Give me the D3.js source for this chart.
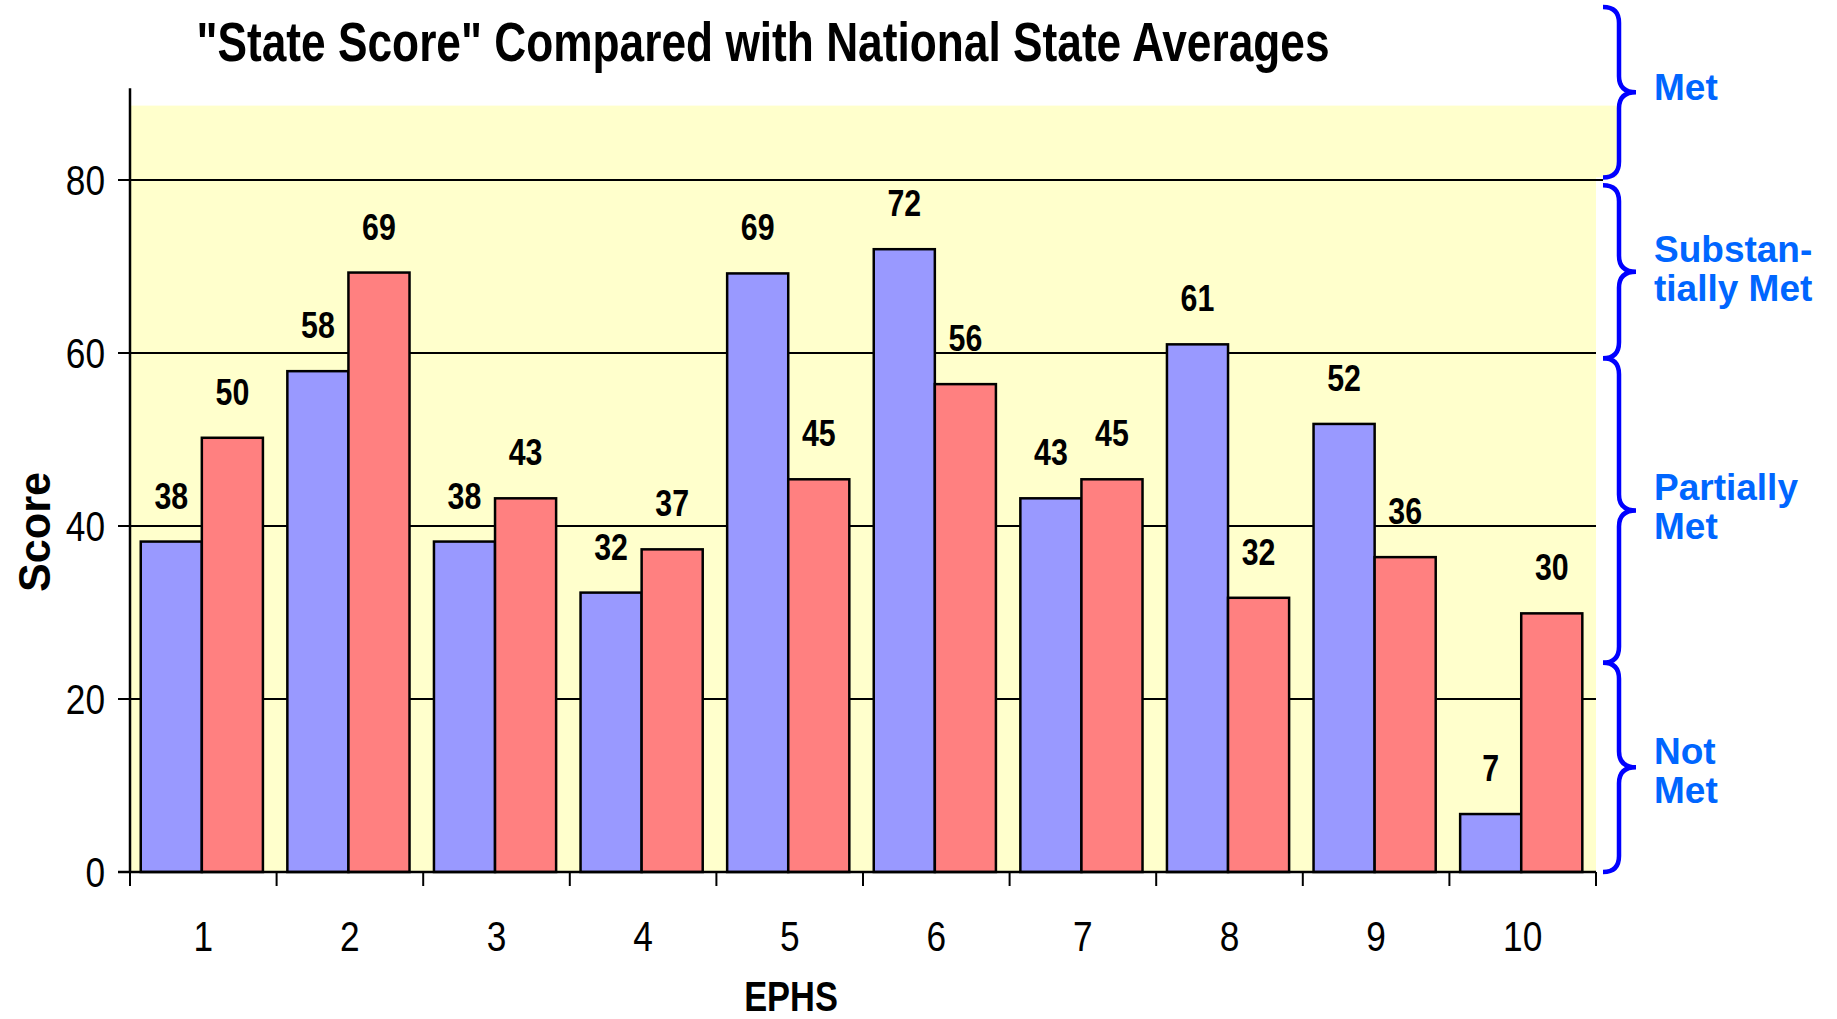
<!DOCTYPE html>
<html>
<head>
<meta charset="utf-8">
<script src="https://cdn.jsdelivr.net/npm/d3@7"></script>
<style>
  body { margin: 0; background: #fff; }
  svg { display: block; }
  text { font-family: "Liberation Sans", Arial, sans-serif; }
</style>
</head>
<body>
<div id="chart"></div>
<script>
const CATEGORIES = ["1", "2", "3", "4", "5", "6", "7", "8", "9", "10"];
const STATE_SCORE = [38.2, 57.9, 38.2, 32.3, 69.2, 72.0, 43.2, 61.0, 51.8, 6.7];
const NATIONAL_AVG = [50.2, 69.3, 43.2, 37.3, 45.4, 56.4, 45.4, 31.7, 36.4, 29.9];
const Y_TICKS = [0, 20, 40, 60, 80];
const LEVEL_NAMES = [["Not", "Met"], ["Partially", "Met"], ["Substan-", "tially Met"], ["Met"]];
const LEVEL_LOW = [0, 24.2, 59.4, 80.3];
const LEVEL_HIGH = [24.2, 59.4, 79.4, 100];

const STATE_COLOUR = "#9999FF";
const NATIONAL_COLOUR = "#FF8080";
const BAND_COLOUR = "#FFFFCC";
const BRACE_COLOUR = "#0000FF";
const LEVEL_TEXT_COLOUR = "#0066FF";
const NARROW = 0.82;   // no Arial Narrow here, squeeze Liberation Sans instead

var width = 1837, height = 1019;
var left = 130, right = 1596;

var svg = d3.select("#chart")
  .append("svg")
    .attr("width", width)
    .attr("height", height);

// narrow text: squeeze horizontally around its anchor point
function narrowText(parent, x, y) {
  return parent.append("text")
    .attr("transform", "translate(" + x + "," + y + ") scale(" + NARROW + ",1)");
}

var y = d3.scaleLinear().domain([0, 80]).range([872, 180]);
var x0 = d3.scaleBand().domain(CATEGORIES).range([left, right]).padding(0);
var x1 = d3.scaleBand().domain(["state", "national"])
  .range([0, x0.bandwidth()])
  .paddingInner(0)
  .paddingOuter(0.2)
  .align(0.44);

// yellow background
svg.append("rect")
  .attr("x", left)
  .attr("y", y(88.6))
  .attr("width", right - left)
  .attr("height", y(0) - y(88.6))
  .attr("fill", BAND_COLOUR);
svg.append("rect")
  .attr("x", right)
  .attr("y", y(88.6))
  .attr("width", 21)
  .attr("height", y(80.3) - y(88.6))
  .attr("fill", BAND_COLOUR);

// gridlines
svg.append("g")
  .selectAll("line")
  .data(Y_TICKS.filter(function(d) { return d > 0; }))
  .enter()
  .append("line")
    .attr("x1", left)
    .attr("x2", function(d) { return d == 80 ? right + 7 : right; })
    .attr("y1", function(d) { return y(d); })
    .attr("y2", function(d) { return y(d); })
    .attr("stroke", "#000")
    .attr("stroke-width", 2);

// bars
var series = [
  {key: "state", values: STATE_SCORE, colour: STATE_COLOUR},
  {key: "national", values: NATIONAL_AVG, colour: NATIONAL_COLOUR}
];
series.forEach(function(s) {
  var g = svg.append("g");
  g.selectAll("rect")
    .data(s.values)
    .enter()
    .append("rect")
      .attr("x", function(d, i) { return x0(CATEGORIES[i]) + x1(s.key); })
      .attr("y", function(d) { return y(d); })
      .attr("width", x1.bandwidth())
      .attr("height", function(d) { return y(0) - y(d); })
      .attr("fill", s.colour)
      .attr("stroke", "#000")
      .attr("stroke-width", 2.5);
  s.values.forEach(function(d, i) {
    narrowText(g, x0(CATEGORIES[i]) + x1(s.key) + x1.bandwidth() / 2, y(d) - 33)
      .attr("text-anchor", "middle")
      .attr("font-size", 37)
      .attr("font-weight", "bold")
      .text(Math.round(d));
  });
});

// y axis
var yAxis = svg.append("g");
yAxis.append("line")
  .attr("x1", left).attr("x2", left)
  .attr("y1", y(0)).attr("y2", y(90.6))
  .attr("stroke", "#000").attr("stroke-width", 2.5);
yAxis.selectAll(".tick")
  .data(Y_TICKS)
  .enter()
  .append("line")
    .attr("x1", left - 12).attr("x2", left)
    .attr("y1", function(d) { return y(d); })
    .attr("y2", function(d) { return y(d); })
    .attr("stroke", "#000").attr("stroke-width", 2);
Y_TICKS.forEach(function(d) {
  narrowText(yAxis, 105, y(d))
    .attr("dy", "0.36em")
    .attr("text-anchor", "end")
    .attr("font-size", 43)
    .text(d);
});

// x axis
var xAxis = svg.append("g");
xAxis.append("line")
  .attr("x1", left - 12).attr("x2", right)
  .attr("y1", y(0)).attr("y2", y(0))
  .attr("stroke", "#000").attr("stroke-width", 2.5);
var xTickPos = CATEGORIES.map(function(c) { return x0(c); }).concat([right]);
xAxis.selectAll(".tick")
  .data(xTickPos)
  .enter()
  .append("line")
    .attr("x1", function(d) { return d; })
    .attr("x2", function(d) { return d; })
    .attr("y1", y(0))
    .attr("y2", y(0) + 14)
    .attr("stroke", "#000").attr("stroke-width", 2);
CATEGORIES.forEach(function(c) {
  narrowText(xAxis, x0(c) + x0.bandwidth() / 2, 951)
    .attr("text-anchor", "middle")
    .attr("font-size", 43)
    .text(c);
});

// titles
svg.append("text")
  .attr("x", 763)
  .attr("y", 61)
  .attr("text-anchor", "middle")
  .attr("font-size", 56)
  .attr("font-weight", "bold")
  .attr("textLength", 1133)
  .attr("lengthAdjust", "spacingAndGlyphs")
  .text('"State Score" Compared with National State Averages');

narrowText(svg, 791, 1011)
  .attr("text-anchor", "middle")
  .attr("font-size", 42)
  .attr("font-weight", "bold")
  .text("EPHS");

svg.append("text")
  .attr("transform", "translate(50,532) rotate(-90)")
  .attr("text-anchor", "middle")
  .attr("font-size", 44)
  .attr("font-weight", "bold")
  .attr("textLength", 120)
  .attr("lengthAdjust", "spacingAndGlyphs")
  .text("Score");

// level braces
var spine = 1619, tip = 1636, ends = 1603;
function bracePath(lo, hi) {
  var y1 = y(hi), y2 = y(lo), ym = (y1 + y2) / 2, r = 16;
  return "M" + ends + "," + y1 +
    " Q" + spine + "," + y1 + " " + spine + "," + (y1 + r) +
    " L" + spine + "," + (ym - r) +
    " Q" + spine + "," + ym + " " + tip + "," + ym +
    " Q" + spine + "," + ym + " " + spine + "," + (ym + r) +
    " L" + spine + "," + (y2 - r) +
    " Q" + spine + "," + y2 + " " + ends + "," + y2;
}
var levels = svg.append("g");
LEVEL_NAMES.forEach(function(lines, i) {
  levels.append("path")
    .attr("d", bracePath(LEVEL_LOW[i], LEVEL_HIGH[i]))
    .attr("fill", "none")
    .attr("stroke", BRACE_COLOUR)
    .attr("stroke-width", 4.5);
  var ym = (y(LEVEL_LOW[i]) + y(LEVEL_HIGH[i])) / 2;
  var first = lines.length == 1 ? ym + 8 : (i == 0 ? ym - 3 : ym - 10);
  var t = levels.append("text")
    .attr("font-size", 37)
    .attr("font-weight", "bold")
    .attr("fill", LEVEL_TEXT_COLOUR);
  lines.forEach(function(line, j) {
    t.append("tspan")
      .attr("x", 1654)
      .attr("y", first + j * 39)
      .text(line);
  });
});
</script>
</body>
</html>
